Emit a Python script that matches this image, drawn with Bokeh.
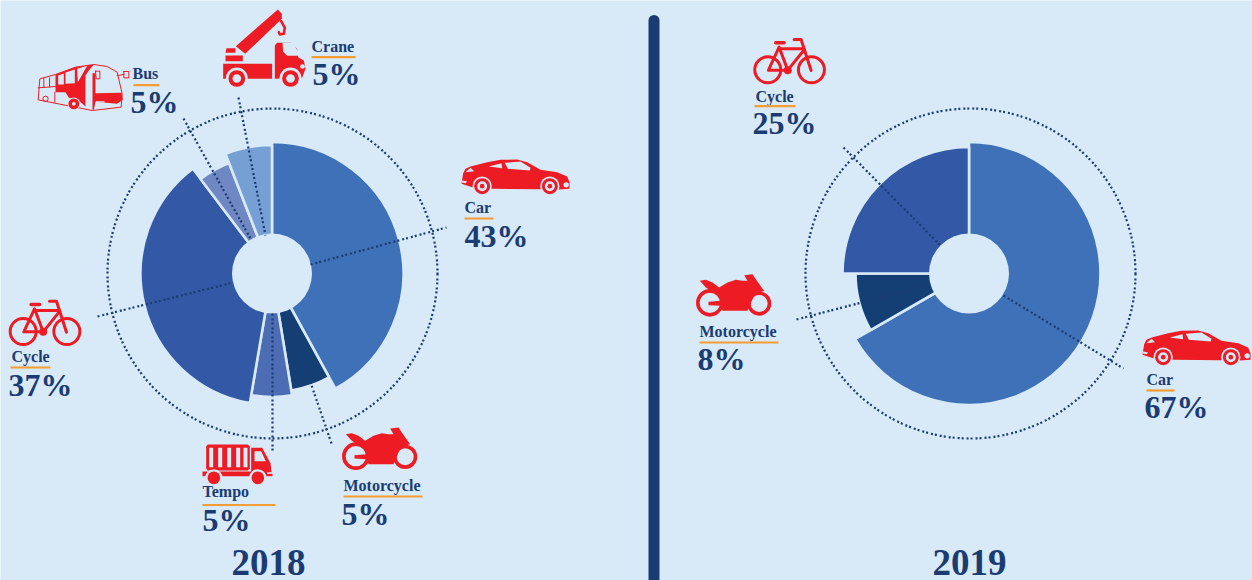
import math
from bokeh.plotting import figure
from bokeh.models import Range1d, ColumnDataSource
from bokeh.core.properties import value
from bokeh.embed import file_html
from bokeh.resources import INLINE

# ---- data ----
categories_2018 = ["Car", "Motorcycle", "Tempo", "Cycle", "Bus", "Crane"]
percent_labels_2018 = ["43%", "5%", "5%", "37%", "5%", "5%"]
slice_share_2018 = [42.0, 5.4, 5.3, 37.0, 4.4, 5.9]
slice_reach_2018 = [131.5, 118.5, 123.5, 131.5, 118.5, 128.5]

categories_2019 = ["Car", "Motorcycle", "Cycle"]
percent_labels_2019 = ["67%", "8%", "25%"]
slice_share_2019 = [66.7, 8.3, 25.0]
slice_reach_2019 = [131.5, 113.5, 126.5]

years = ["2018", "2019"]

# ---- style ----
BG = "#d8e9f8"
NAVY = "#1a3c73"
RED = "#ed1c24"
ORANGE = "#f59c33"
COLORS = {"Car": "#3f71b8", "Motorcycle": "#143f75", "Tempo": "#4c6cb3",
          "Cycle": "#3358a6", "Bus": "#6f87c2", "Crane": "#76a0d4"}
SERIF = value("Liberation Serif")
BASE_SHIFT = 0.37  # the browser sets these texts lower than the given baseline
DOTS = "2 3 2 2"

p = figure(width=1252, height=580, output_backend="svg", toolbar_location=None,
           x_range=Range1d(0, 1252), y_range=Range1d(580, 0),
           min_border=0, outline_line_color=None, background_fill_color=BG,
           border_fill_color=BG)
p.axis.visible = False
p.grid.visible = False
p.styles = {"position": "absolute", "left": "0", "top": "0"}


def donut(cx, cy, ring_cx, cats, shares, reach):
    a = 0.0
    d = dict(x=[], y=[], r=[], s=[], e=[], c=[])
    for cat, sh, r in zip(cats, shares, reach):
        b = a + sh * 3.6
        d["x"].append(cx); d["y"].append(cy); d["r"].append(r)
        d["s"].append(math.radians(90 - b)); d["e"].append(math.radians(90 - a))
        d["c"].append(COLORS[cat])
        a = b
    p.wedge("x", "y", radius="r", start_angle="s", end_angle="e", direction="anticlock",
            fill_color="c", line_color=BG, line_width=2.6, source=ColumnDataSource(d))
    p.circle([cx], [cy], radius=[40], fill_color=BG, line_color=None)
    p.circle([ring_cx], [cy], radius=[165], fill_color=None, line_color=NAVY,
             line_width=2.2, line_dash=DOTS)


donut(271.5, 273, 272, categories_2018, slice_share_2018, slice_reach_2018)
donut(968.5, 273, 970, categories_2019, slice_share_2019, slice_reach_2019)

# leaders
lead_x = [[310, 446], [97, 233], [238, 265], [183, 250], [272, 272], [331, 287],
          [1003, 1123], [796, 928], [843, 940]]
lead_y = [[264, 227], [316, 282], [97, 235], [118, 238], [313, 453], [443, 315],
          [295, 368], [319, 284.5], [147, 245]]
p.multi_line(lead_x, lead_y, line_color=NAVY, line_width=2.2, line_dash=DOTS)

# divider
p.line([653.5, 653.5], [20, 590], line_color=NAVY, line_width=11, line_cap="round")


def txt(x, y, s, size, color=NAVY):
    p.text([x - 1], [y - BASE_SHIFT * size], text=[s], text_font=SERIF, text_font_style="bold",
           text_font_size=f"{size}px", text_color=color, text_baseline="alphabetic")


def label(name, pct, lx, ly, ux0, ux1, uy, px, py):
    txt(lx, ly, name, 16)
    p.line([ux0, ux1], [uy, uy], line_color=ORANGE, line_width=2.2)
    txt(px, py, pct, 32)


lab18 = {"Car": (465, 213, 464, 493, 218, 465, 247),
         "Motorcycle": (344, 491, 343, 422, 496, 342, 525),
         "Tempo": (203, 497, 202, 275, 504.5, 203, 531),
         "Cycle": (12, 362, 10, 50, 367, 9, 396),
         "Bus": (133, 79, 133, 159, 84.7, 131, 113),
         "Crane": (312, 52, 311, 355, 56.7, 313, 85)}
for c, t in zip(categories_2018, percent_labels_2018):
    label(c, t, *lab18[c])
lab19 = {"Car": (1147, 385, 1146, 1174, 390, 1145, 418),
         "Motorcycle": (700, 337, 699, 778, 342, 698, 370),
         "Cycle": (756, 102, 754, 795, 105.7, 753, 134)}
for c, t in zip(categories_2019, percent_labels_2019):
    label(c, t, *lab19[c])

txt(232, 576, years[0], 37)
txt(933, 576, years[1], 37)


# ---- icons: outlines given in 3x zoom coordinates ----
class Icon:
    def __init__(self, ox, oy, dx=0.0, dy=0.0):
        self.ox, self.oy, self.dx, self.dy = ox, oy, dx, dy

    def X(self, x):
        return self.ox + x / 3 + self.dx

    def Y(self, y):
        return self.oy + y / 3 + self.dy

    def poly(self, pts, color=RED):
        p.patch([self.X(a) for a, _ in pts], [self.Y(b) for _, b in pts],
                fill_color=color, line_color=None)

    def disc(self, x, y, r, color=RED):
        p.circle([self.X(x)], [self.Y(y)], radius=[r / 3], fill_color=color, line_color=None)

    def ring(self, x, y, r, w, color=RED):
        p.circle([self.X(x)], [self.Y(y)], radius=[r / 3], fill_color=None,
                 line_color=color, line_width=w)

    def stroke(self, pts, w, color=RED, cap="round"):
        p.line([self.X(a) for a, _ in pts], [self.Y(b) for _, b in pts],
               line_color=color, line_width=w, line_cap=cap, line_join="round")

    def rect(self, x0, y0, x1, y1, color=RED):
        self.poly([(x0, y0), (x1, y0), (x1, y1), (x0, y1)], color)


def car(ic):
    ic.poly([(123, 160), (128, 128), (135, 115), (150, 108), (200, 95), (240, 88), (290, 87),
             (320, 95), (360, 118), (410, 125), (440, 138), (447, 155), (447, 175), (415, 177),
             (360, 176), (215, 175), (155, 170)])
    ic.poly([(205, 108), (243, 98), (245, 113)], BG)
    ic.poly([(253, 97), (300, 93), (330, 112), (328, 120), (262, 115)], BG)
    ic.poly([(135, 125), (150, 112), (161, 122)], BG)
    ic.poly([(125, 150), (140, 153), (135, 158), (124, 156)], BG)
    ic.disc(437, 163, 8, BG)
    for wx in (185, 388):
        ic.disc(wx, 167, 29, BG)
        ic.disc(wx, 167, 24)
        ic.disc(wx, 167, 15, BG)
        ic.disc(wx, 167, 7)


def bike(ic):
    ic.ring(68, 123, 39, 3)
    ic.ring(199, 123, 39, 3)
    ic.stroke([(70, 124), (102, 55), (128, 124), (70, 124)], 3)
    ic.stroke([(102, 60), (176, 60)], 3)
    ic.stroke([(128, 124), (178, 62)], 3)
    ic.stroke([(147, 32), (168, 32), (198, 125)], 3)
    ic.stroke([(92, 42), (117, 42)], 3.6)
    ic.disc(128, 124, 12)


def moto(ic):
    ic.ring(1066, 497, 36, 3.6)
    ic.ring(1214, 499, 31, 3.6)
    ic.poly([(1036, 431), (1054, 428), (1074, 436), (1094, 451), (1119, 436), (1144, 428),
             (1164, 431), (1179, 431), (1169, 414), (1194, 411), (1204, 426), (1229, 461),
             (1204, 468), (1194, 486), (1179, 521), (1104, 521), (1099, 506), (1062, 504),
             (1062, 494), (1099, 491), (1099, 476), (1069, 461), (1054, 451)])


def tempo():
    ic = Icon(0, 290)
    ic.poly([(622, 462), (742, 462), (748, 468), (748, 534), (742, 540), (622, 540), (617, 534), (617, 468)])
    for sx in (632, 659, 686, 713, 735):
        ic.poly([(sx - 6, 472), (sx + 6, 472), (sx + 6, 530), (sx - 6, 530)], BG)
    ic.poly([(752, 472), (785, 472), (810, 518), (813, 545), (752, 545)])
    ic.poly([(762, 482), (782, 482), (796, 512), (762, 512)], BG)
    ic.rect(622, 543, 800, 557)
    ic.rect(606, 543, 620, 557)
    ic.rect(795, 550, 816, 557)
    ic.disc(640, 562, 26, BG)
    ic.disc(772, 562, 26, BG)
    ic.disc(640, 562, 19)
    ic.disc(772, 562, 19)


def crane():
    ic = Icon(0, 0)
    ic.poly([(706, 137), (832, 27), (844, 40), (844, 55), (734, 160)])
    ic.stroke([(842, 62), (853, 82), (850, 100), (838, 102), (835, 95)], 2.6)
    ic.poly([(678, 143), (705, 143), (705, 157), (675, 157)])
    ic.rect(675, 165, 727, 182)
    ic.poly([(668, 190), (815, 190), (815, 235), (668, 235), (668, 205)])
    ic.poly([(823, 135), (830, 127), (870, 127), (890, 145), (893, 170), (910, 180),
             (915, 205), (905, 232), (823, 235)])
    ic.poly([(846, 127), (876, 127), (897, 158), (897, 166), (860, 166), (848, 154)], BG)
    ic.disc(906, 198, 7, BG)
    for wx in (709, 870):
        ic.disc(wx, 234, 33, BG)
        ic.disc(wx, 234, 25)
        ic.disc(wx, 234, 13, BG)


def bus():
    ic = Icon(0, 0)
    ic.stroke([(113, 298), (118, 235), (165, 222), (225, 200), (280, 192), (320, 198), (350, 215),
               (365, 280), (362, 320), (275, 330), (113, 298)], 1, cap="butt")
    ic.stroke([(113, 262), (165, 258)], 1)
    for wx in (130, 147):
        ic.stroke([(wx, 232), (wx, 260)], 1)
    ic.stroke([(163, 275), (163, 305)], 1)
    ic.poly([(165, 222), (225, 200), (280, 192), (265, 210), (255, 225), (255, 318), (235, 300),
             (205, 292), (195, 275), (165, 275)])
    ic.poly([(173, 225), (190, 219), (190, 252), (173, 252)], BG)
    ic.poly([(195, 216), (223, 207), (223, 248), (195, 250)], BG)
    ic.poly([(230, 205), (260, 196), (232, 245)], BG)
    ic.poly([(276, 218), (285, 218), (285, 278), (363, 277), (367, 298), (350, 310), (285, 304), (280, 328), (276, 328)])
    ic.rect(286, 302, 312, 306, BG)
    ic.ring(135, 295, 8, 1)
    ic.disc(220, 310, 19, BG)
    ic.ring(220, 310, 11, 3.5)
    ic.stroke([(350, 225), (370, 222)], 1)
    ic.stroke([(370, 213), (385, 213), (385, 232), (370, 232), (370, 213)], 1)
    ic.stroke([(285, 212), (298, 212), (298, 235), (287, 235), (285, 212)], 1)


car(Icon(420, 130))
car(Icon(420, 130, 681, 171))
bike(Icon(0, 290))
bike(Icon(0, 290, 744.6, -261.7))
moto(Icon(0, 290))
moto(Icon(0, 290, 354, -153.3))
tempo()
crane()
bus()

open("out.html", "w").write(file_html(p, INLINE))
